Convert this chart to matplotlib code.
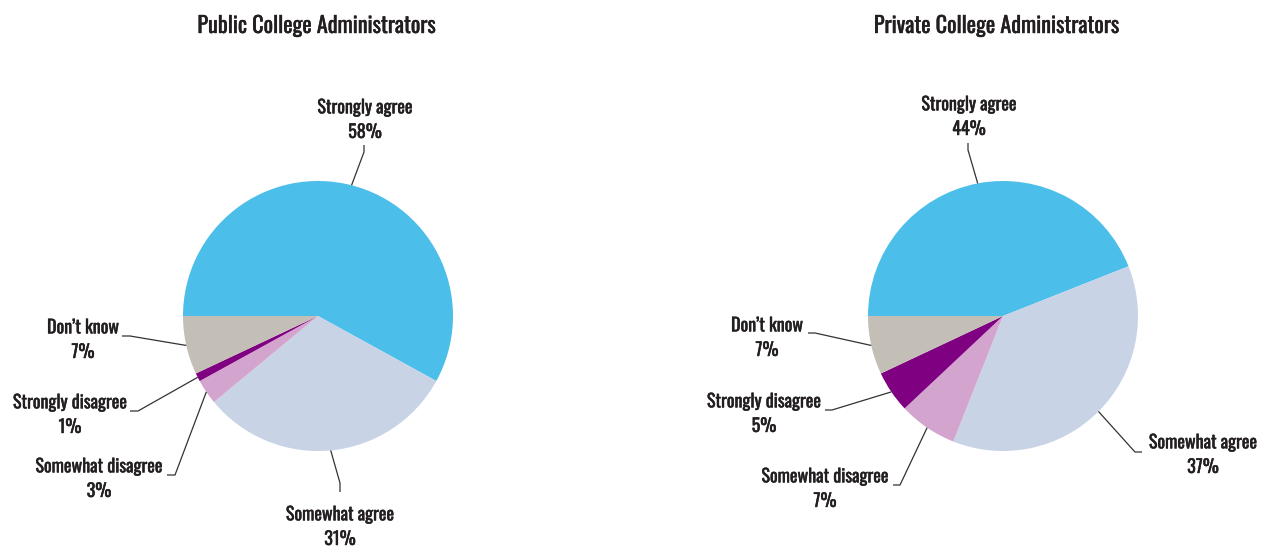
import matplotlib
matplotlib.use('Agg')
import matplotlib.pyplot as plt
import matplotlib.patheffects as pe
from matplotlib import font_manager
import numpy as np

# Survey responses, in the order the wedges are drawn (clockwise from 9 o'clock)
categories = ['Strongly agree', 'Somewhat agree', 'Somewhat disagree',
              'Strongly disagree', "Don\u2019t know"]
public_values = [58, 31, 3, 1, 7]
private_values = [44, 37, 7, 5, 7]
titles = ['Public College Administrators', 'Private College Administrators']

colors = ['#4bbfe9', '#c8d3e6', '#d3a4ce', '#7f0080', '#c3bfb6']
TEXT = '#231f20'
W, H = 1268, 546

# narrow gothic face for all text, first one found wins
available = {f.name for f in font_manager.fontManager.ttflist}
family = next((f for f in ['Oswald', 'Barlow Condensed', 'Roboto Condensed']
               if f in available), 'DejaVu Sans')
plt.rcParams['font.family'] = [family, 'DejaVu Sans']

# thin outline in the text colour to give the glyphs a medium weight
bolder = [pe.withStroke(linewidth=0.3, foreground=TEXT)]

fig = plt.figure(figsize=(W / 100, H / 100), dpi=100)
ax = fig.add_axes([0, 0, 1, 1])


def Y(y):
    # pixel row (top-down) -> data y
    return H - y


# per label: centre x and last baseline of the text block, leader start + elbow
public_layout = [
    dict(text=(365, 138), path=[(364, 145), (364, 152)]),
    dict(text=(340, 545), path=[(340, 492), (340, 483)]),
    dict(text=(99, 497), path=[(167, 475), (175, 475)]),
    dict(text=(70, 433), path=[(130, 411), (138, 411)]),
    dict(text=(83, 358), path=[(122, 336), (130, 336)]),
]
private_layout = [
    dict(text=(969, 135), path=[(968, 143), (968, 150)]),
    dict(text=(1203, 473), path=[(1142, 452), (1135, 452)]),
    dict(text=(825, 507), path=[(893, 485), (900, 485)]),
    dict(text=(764, 432), path=[(825, 410), (832, 410)]),
    dict(text=(767, 356), path=[(808, 333), (815, 333)]),
]

pies = [
    (public_values, (318, 316), 317, public_layout),
    (private_values, (1003, 316), 997, private_layout),
]
radius = 135

for (values, (cx, cy), tx, layout), title in zip(pies, titles):
    wedges, _ = ax.pie(values, colors=colors, startangle=180, counterclock=False,
                       center=(cx, Y(cy)), radius=radius,
                       wedgeprops=dict(linewidth=0))

    ax.text(tx, Y(33), title, ha='center', va='baseline', fontsize=16,
            color=TEXT, path_effects=bolder)

    for w, cat, val, lay in zip(wedges, categories, values, layout):
        # leader runs from the middle of the wedge's rim to the label
        mid = np.deg2rad((w.theta1 + w.theta2) / 2)
        ex = cx + radius * np.cos(mid)
        ey = Y(cy) + radius * np.sin(mid)
        pts = [(x, Y(y)) for x, y in lay['path']]
        ax.plot([pts[0][0], pts[1][0], ex], [pts[0][1], pts[1][1], ey],
                color='#333333', linewidth=0.9, solid_capstyle='butt')

        lx, ly = lay['text']
        ax.text(lx, Y(ly), f'{cat}\n{val}%', ha='center', va='baseline',
                multialignment='center', fontsize=13, color=TEXT,
                linespacing=1.44, path_effects=bolder)

ax.set_xlim(0, W)
ax.set_ylim(0, H)
ax.set_aspect('equal')
ax.axis('off')

fig.savefig('out.png', dpi=100)
